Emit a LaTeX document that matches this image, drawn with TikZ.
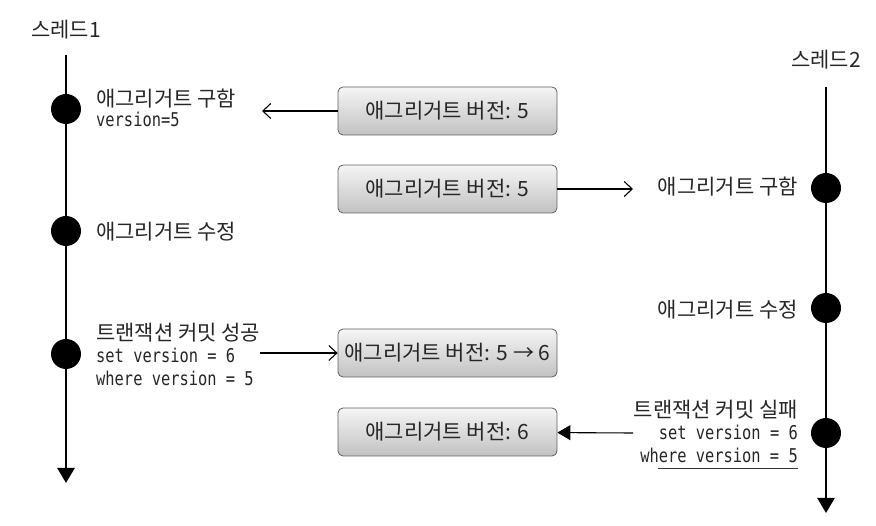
\documentclass[tikz,border=0pt]{standalone}
\usepackage{fontspec}
\setmainfont{Noto Sans CJK KR}
\newfontfamily\codefont[FakeStretch=0.81]{DejaVu Sans Mono}
\usetikzlibrary{arrows.meta}

\begin{document}
\begin{tikzpicture}
[x=1pt,y=-1pt,
  dotDecorate/.style={shape=circle,fill=black,inner sep=0pt,minimum size=30pt},%
  boxDecorate/.style={rounded corners=5pt,draw=gray!75!black,line width=0.8pt,
    top color=gray!8,bottom color=gray!48,minimum width=219pt,minimum height=48pt,
    inner sep=0pt,font=\fontsize{21}{25}\selectfont,text=black!85},%
  labelDecorate/.style={inner sep=0pt,font=\fontsize{21}{24}\selectfont,text=black!85},%
  codeDecorate/.style={inner sep=0pt,font=\codefont\fontsize{19}{22}\selectfont,text=black!85},%
  threadLine/.style={-{Triangle[length=15pt,width=17pt]},line width=2.4pt},%
  openArrow/.style={-{Straight Barb[length=8pt,width=15pt]},line width=1.1pt},%
  fillArrow/.style={-{Triangle[length=13pt,width=15pt]},line width=1.1pt}]
\useasboundingbox (0,0) rectangle (876,526);
%% threads
\node (t1) at (66,38) [labelDecorate,anchor=base] {스레드1};
\node (t2) at (826,68) [labelDecorate,anchor=base] {스레드2};
\coordinate (top1) at (66,55);
\coordinate (end1) at (66,483);
\coordinate (top2) at (826,87);
\coordinate (end2) at (826,513);
\draw[threadLine] (top1) -- (end1);
\draw[threadLine] (top2) -- (end2);
%% events on the threads
\foreach \nodename/\x/\y in {
  d1/66/109, d2/66/231, d3/66/354, d4/826/188, d5/826/308, d6/826/433}
{
  \node (\nodename) at (\x,\y) [dotDecorate] {};
}
%% texts beside the events
\foreach \nodename/\x/\y/\txt in {
  l1a/96/107/애그리거트 구함, l2a/96/240/애그리거트 수정, l3a/96/341/트랜잭션 커밋 성공}
{
  \node (\nodename) at (\x,\y) [labelDecorate,anchor=base west] {\txt};
}
\foreach \nodename/\x/\y/\txt in {
  l1b/96/127/version=5, l3b/96/363/set version = 6, l3c/96/386/where version = 5}
{
  \node (\nodename) at (\x,\y) [codeDecorate,anchor=base west] {\txt};
}
\foreach \nodename/\x/\y/\txt in {
  r1a/798/195/애그리거트 구함, r2a/798/318/애그리거트 수정, r3a/798/418/트랜잭션 커밋 실패}
{
  \node (\nodename) at (\x,\y) [labelDecorate,anchor=base east] {\txt};
}
\foreach \nodename/\x/\y/\txt in {
  r3b/798/440/set version = 6, r3c/798/463/where version = 5}
{
  \node (\nodename) at (\x,\y) [codeDecorate,anchor=base east] {\txt};
}
\draw[line width=0.8pt,black!80] ([xshift=18pt,yshift=-5pt]r3c.base west) -- ([yshift=-5pt]r3c.base east);
%% aggregate boxes
\foreach \nodename/\y/\txt in {
  b1/111/애그리거트 버전: 5, b2/189/애그리거트 버전: 5, b3/353/애그리거트 버전: 5 → 6, b4/432/애그리거트 버전: 6}
{
  \node (\nodename) at (447.5,\y) [boxDecorate] {\txt};
}
%% connectors
\coordinate (a1) at (262,111);
\coordinate (a2) at (633,189);
\coordinate (a3) at (260,353);
\coordinate (a4) at (633,433);
\path
\foreach \startnode/\endnode/\tip in {b1/a1/openArrow, b2/a2/openArrow, a3/b3/openArrow, a4/b4/fillArrow}
{
  (\startnode) edge[\tip] (\endnode)
};
\end{tikzpicture}
\end{document}
